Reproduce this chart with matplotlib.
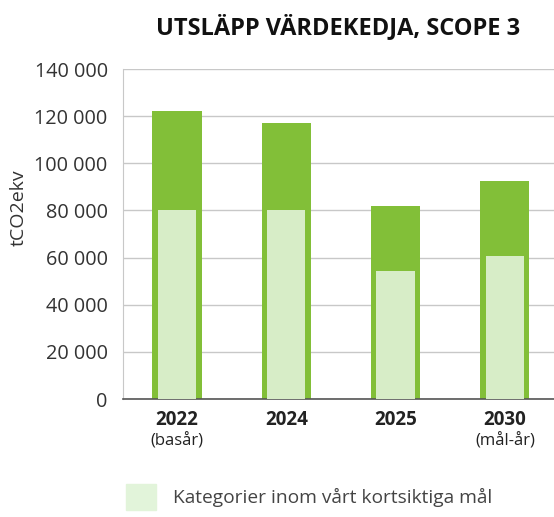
import matplotlib.pyplot as plt
from matplotlib.patches import Patch

plt.rcParams['font.family'] = ['Open Sans', 'DejaVu Sans']

# Data (tCO2ekv)
years = ["2022", "2024", "2025", "2030"]
sub_labels = ["(basår)", "", "", "(mål-år)"]
total = [122000, 117000, 82000, 92500]
short_term = [80000, 80000, 54500, 60500]
yticks = [0, 20000, 40000, 60000, 80000, 100000, 120000, 140000]

dark_green = "#82bf38"
light_green = "#d7edc7"
legend_green = "#e2f4da"
text_col = "#333333"

fig = plt.figure(figsize=(5.54, 5.17), dpi=100)
ax = fig.add_axes([0.222, 0.228, 0.778, 0.6385])

x = list(range(len(years)))
ax.bar(x, total, width=0.45, color=dark_green, zorder=2)
ax.bar(x, short_term, width=0.35, color=light_green, zorder=3)

ax.set_ylim(0, 140000)
ax.set_xlim(-0.494, 3.45)
ax.set_yticks(yticks)
ax.set_yticklabels([f"{v:,}".replace(",", " ") for v in yticks],
                   fontsize=14.3, color=text_col)
ax.yaxis.grid(True, color="#c8c8c8", linewidth=1, zorder=0)
ax.set_axisbelow(True)
ax.tick_params(axis="y", length=0, pad=11)
ax.tick_params(axis="x", length=0)
ax.set_xticks(x)
ax.set_xticklabels([])

for i, (yr, sub) in enumerate(zip(years, sub_labels)):
    ax.text(i, -4800, yr, ha="center", va="top", fontsize=13.5,
            fontweight="bold", color="#222222")
    if sub:
        ax.text(i, -14500, sub, ha="center", va="top", fontsize=12,
                color="#222222")

for side in ["top", "right"]:
    ax.spines[side].set_visible(False)
ax.spines["left"].set_color("#c8c8c8")
ax.spines["bottom"].set_color("#555555")
ax.spines["bottom"].set_linewidth(1.2)

fig.text(0.034, 0.598, "tCO2ekv", rotation=90, ha="center", va="center",
         fontsize=14, color=text_col)

fig.text(0.61, 0.948, "UTSLÄPP VÄRDEKEDJA, SCOPE 3", ha="center", va="center",
         fontsize=17, fontweight="bold", color="#111111")

fig.legend(handles=[Patch(color=legend_green,
                          label="Kategorier inom vårt kortsiktiga mål")],
           loc="center left", bbox_to_anchor=(0.196, 0.039), frameon=False,
           fontsize=13.8, handlelength=1.57, handleheight=1.67, handletextpad=0.88,
           labelcolor="#444444")

fig.savefig("out.png", dpi=100)
